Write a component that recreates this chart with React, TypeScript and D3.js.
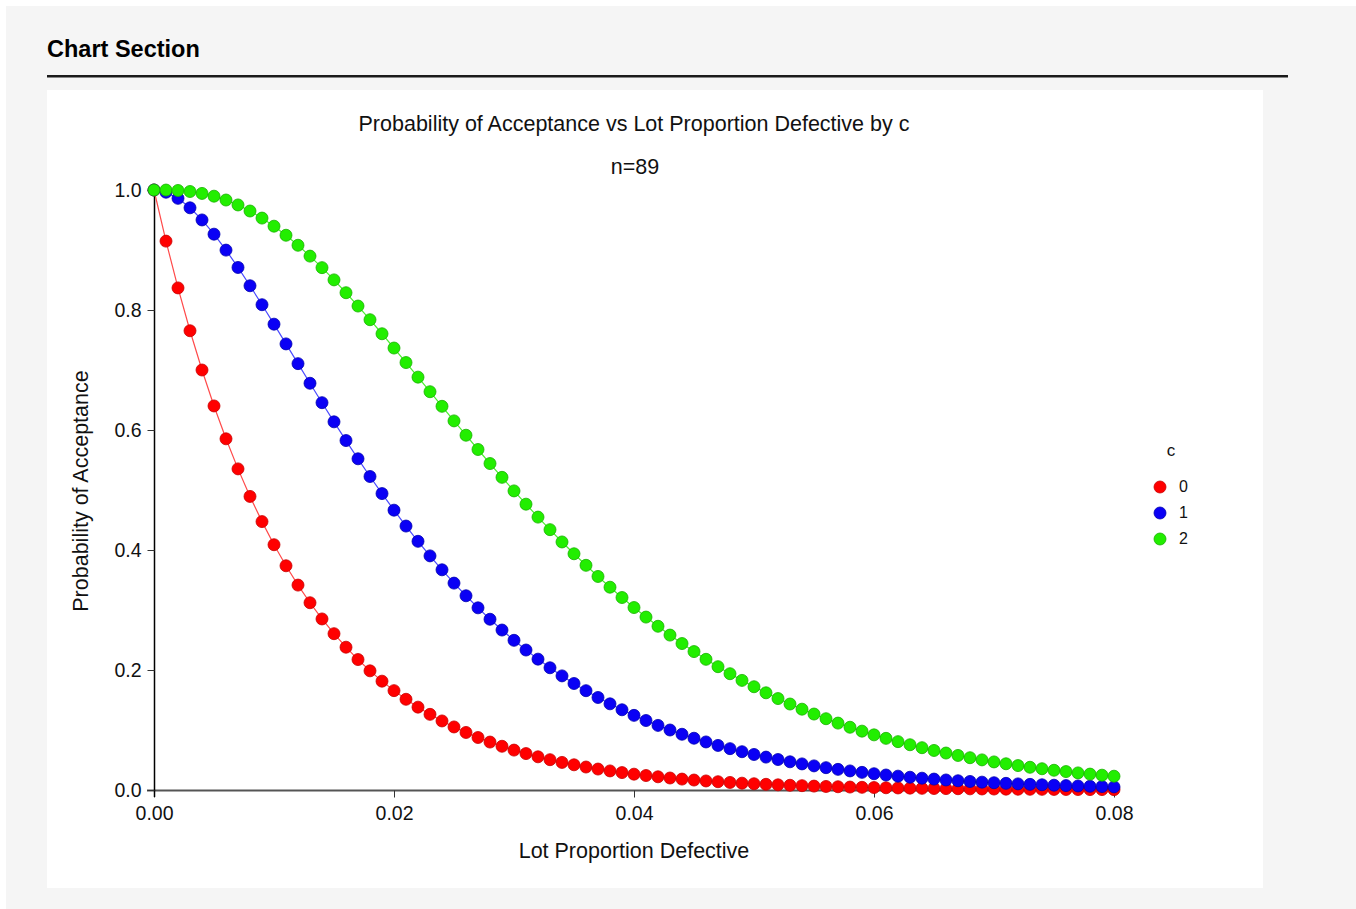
import { useEffect, useRef } from "react";
import * as d3 from "d3";

// lot proportion defective, 0.000 .. 0.080 step 0.001
const proportions = d3.range(0, 81).map((k) => k / 1000);

// probability of acceptance, n = 89
const accC0 = [
  1.0, 0.9148, 0.8368, 0.7654, 0.7000, 0.6401, 0.5853, 0.5352, 0.4893, 0.4473,
  0.4088, 0.3737, 0.3415, 0.3121, 0.2851, 0.2605, 0.2380, 0.2174, 0.1986, 0.1814,
  0.1656, 0.1512, 0.1381, 0.1261, 0.1151, 0.1051, 0.0959, 0.0875, 0.0799, 0.0729,
  0.0665, 0.0607, 0.0553, 0.0505, 0.0460, 0.0420, 0.0383, 0.0349, 0.0318, 0.0290,
  0.0264, 0.0241, 0.0220, 0.0200, 0.0182, 0.0166, 0.0151, 0.0138, 0.0126, 0.0114,
  0.0104, 0.0095, 0.0086, 0.0079, 0.0072, 0.0065, 0.0059, 0.0054, 0.0049, 0.0045,
  0.0041, 0.0037, 0.0034, 0.0031, 0.0028, 0.0025, 0.0023, 0.0021, 0.0019, 0.0017,
  0.0016, 0.0014, 0.0013, 0.0012, 0.0011, 0.0010, 0.0009, 0.0008, 0.0007, 0.0007,
  0.0006,
];
const accC1 = [
  1.0, 0.9963, 0.9861, 0.9703, 0.9501, 0.9264, 0.8998, 0.8709, 0.8404, 0.8088,
  0.7764, 0.7435, 0.7106, 0.6779, 0.6455, 0.6136, 0.5824, 0.5520, 0.5225, 0.4940,
  0.4664, 0.4399, 0.4145, 0.3902, 0.3670, 0.3448, 0.3237, 0.3036, 0.2846, 0.2666,
  0.2495, 0.2333, 0.2181, 0.2037, 0.1902, 0.1775, 0.1655, 0.1542, 0.1436, 0.1337,
  0.1244, 0.1158, 0.1077, 0.1000, 0.0929, 0.0863, 0.0801, 0.0743, 0.0689, 0.0638,
  0.0592, 0.0548, 0.0508, 0.0470, 0.0435, 0.0402, 0.0372, 0.0344, 0.0318, 0.0294,
  0.0271, 0.0250, 0.0231, 0.0213, 0.0197, 0.0182, 0.0167, 0.0154, 0.0142, 0.0131,
  0.0121, 0.0111, 0.0102, 0.0094, 0.0087, 0.0080, 0.0073, 0.0067, 0.0062, 0.0057,
  0.0052,
];
const accC2 = [
  1.0, 0.9999, 0.9992, 0.9975, 0.9943, 0.9897, 0.9833, 0.9751, 0.9650, 0.9532,
  0.9397, 0.9246, 0.9079, 0.8898, 0.8706, 0.8502, 0.8288, 0.8066, 0.7838, 0.7604,
  0.7366, 0.7124, 0.6881, 0.6638, 0.6395, 0.6152, 0.5913, 0.5675, 0.5441, 0.5211,
  0.4985, 0.4764, 0.4548, 0.4339, 0.4134, 0.3937, 0.3745, 0.3559, 0.3380, 0.3208,
  0.3041, 0.2882, 0.2729, 0.2582, 0.2441, 0.2307, 0.2178, 0.2055, 0.1938, 0.1827,
  0.1721, 0.1620, 0.1524, 0.1433, 0.1347, 0.1266, 0.1188, 0.1115, 0.1046, 0.0981,
  0.0919, 0.0861, 0.0806, 0.0754, 0.0705, 0.0659, 0.0616, 0.0576, 0.0538, 0.0502,
  0.0468, 0.0437, 0.0407, 0.0379, 0.0354, 0.0329, 0.0307, 0.0285, 0.0265, 0.0247,
  0.0230,
];

const seriesNames = ["0", "1", "2"];
const seriesValues = [accC0, accC1, accC2];
const fills = ["#ff0000", "#0a00f5", "#22ee00"];
const strokes = ["#c80000", "#0000b0", "#18b000"];
const lineColors = ["#ff4a4a", "#4a4aff", "#4aee30"];

const xTicks = [0, 0.02, 0.04, 0.06, 0.08];
const yTicks = [0, 0.2, 0.4, 0.6, 0.8, 1.0];

const W = 1356;
const H = 909;
const font = "'Liberation Sans', Arial, sans-serif";

export default function App() {
  const ref = useRef<SVGSVGElement>(null);

  useEffect(() => {
    const svg = d3.select(ref.current);
    svg.selectAll("*").remove();

    // page background + panel
    svg.append("rect").attr("width", W).attr("height", H).attr("fill", "#ffffff");
    svg.append("rect").attr("x", 6).attr("y", 6).attr("width", W - 6).attr("height", H - 6).attr("fill", "#f5f5f5");
    svg.append("text")
      .attr("x", 47).attr("y", 57)
      .attr("font-family", font).attr("font-size", 23.5).attr("font-weight", "bold")
      .attr("fill", "#000")
      .text("Chart Section");
    svg.append("rect").attr("x", 47).attr("y", 75).attr("width", 1241).attr("height", 2.5).attr("fill", "#1a1a1a");
    svg.append("rect").attr("x", 47).attr("y", 90).attr("width", 1216).attr("height", 798).attr("fill", "#ffffff");

    const x = d3.scaleLinear().domain([0, 0.08]).range([154, 1114]);
    const y = d3.scaleLinear().domain([0, 1]).range([790, 190]);

    // titles
    svg.append("text")
      .attr("x", 634).attr("y", 131).attr("text-anchor", "middle")
      .attr("font-family", font).attr("font-size", 21.5).attr("fill", "#111")
      .text("Probability of Acceptance vs Lot Proportion Defective by c");
    svg.append("text")
      .attr("x", 635).attr("y", 174).attr("text-anchor", "middle")
      .attr("font-family", font).attr("font-size", 21.5).attr("fill", "#111")
      .text("n=89");

    // x axis
    const xAxis = svg.append("g").attr("transform", "translate(0,790.5)")
      .call(d3.axisBottom(x).tickValues(xTicks).tickSize(7).tickSizeOuter(0).tickPadding(9).tickFormat(d3.format(".2f")));
    xAxis.select(".domain").attr("stroke", "#555").attr("stroke-width", 2).attr("d", "M147,0H1114");
    xAxis.selectAll(".tick line").attr("stroke", "#333");
    xAxis.selectAll("text").attr("font-family", font).attr("font-size", 19.5).attr("fill", "#111");

    // y axis
    const yAxis = svg.append("g").attr("transform", "translate(154.5,0)")
      .call(d3.axisLeft(y).tickValues(yTicks).tickSize(7).tickSizeOuter(0).tickPadding(6).tickFormat(d3.format(".1f")));
    yAxis.select(".domain").attr("stroke", "#000").attr("stroke-width", 1.5).attr("d", "M0,190V797");
    yAxis.selectAll(".tick line").attr("stroke", "#333");
    yAxis.selectAll("text").attr("font-family", font).attr("font-size", 19.5).attr("fill", "#111");

    svg.append("text")
      .attr("x", 634).attr("y", 858).attr("text-anchor", "middle")
      .attr("font-family", font).attr("font-size", 21.5).attr("fill", "#111")
      .text("Lot Proportion Defective");
    svg.append("text")
      .attr("transform", "translate(88,491) rotate(-90)").attr("text-anchor", "middle")
      .attr("font-family", font).attr("font-size", 21.5).attr("fill", "#111")
      .text("Probability of Acceptance");

    // series
    const line = d3.line<number>()
      .x((_, i) => x(proportions[i]))
      .y((d) => y(d));

    seriesValues.forEach((vals, s) => {
      const g = svg.append("g");
      g.append("path")
        .datum(vals)
        .attr("fill", "none")
        .attr("stroke", lineColors[s])
        .attr("stroke-width", 1.2)
        .attr("d", line);
      g.selectAll("circle")
        .data(vals)
        .join("circle")
        .attr("cx", (_, i) => x(proportions[i]))
        .attr("cy", (d) => y(d))
        .attr("r", 6)
        .attr("fill", fills[s])
        .attr("stroke", strokes[s])
        .attr("stroke-width", 0.8);
    });

    // legend
    const leg = svg.append("g");
    leg.append("text")
      .attr("x", 1171).attr("y", 456).attr("text-anchor", "middle")
      .attr("font-family", font).attr("font-size", 17).attr("fill", "#111")
      .text("c");
    seriesNames.forEach((name, s) => {
      const cy = 487 + s * 26;
      leg.append("circle").attr("cx", 1160).attr("cy", cy).attr("r", 6)
        .attr("fill", fills[s]).attr("stroke", strokes[s]).attr("stroke-width", 0.8);
      leg.append("text").attr("x", 1179).attr("y", cy + 5)
        .attr("font-family", font).attr("font-size", 16).attr("fill", "#111")
        .text(name);
    });
  }, []);

  return (
    <svg
      ref={ref}
      width={W}
      height={H}
      style={{ position: "absolute", left: 0, top: 0, display: "block" }}
    />
  );
}
